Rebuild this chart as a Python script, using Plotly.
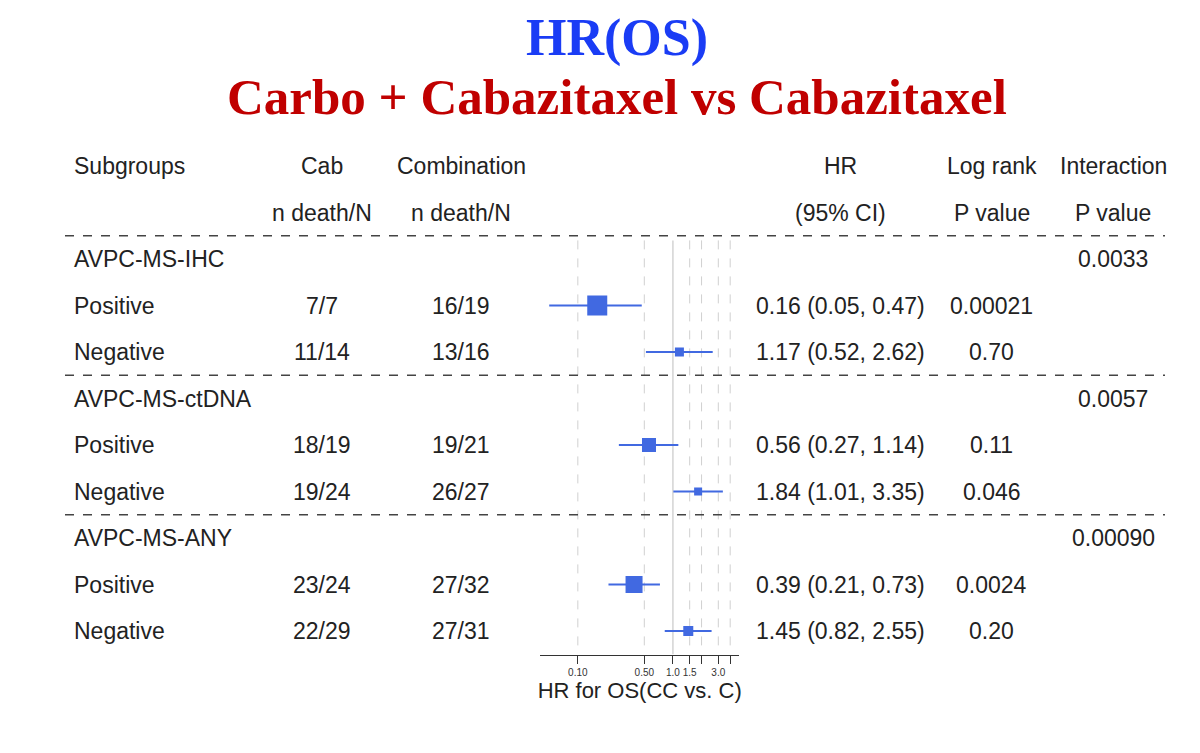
import plotly.graph_objects as go
import numpy as np

# data ---------------------------------------------------------------
groups = ['AVPC-MS-IHC', 'AVPC-MS-ctDNA', 'AVPC-MS-ANY']
interaction_p = ['0.0033', '0.0057', '0.00090']
levels = ['Positive', 'Negative']
cab_n = ['7/7', '11/14', '18/19', '19/24', '23/24', '22/29']
combo_n = ['16/19', '13/16', '19/21', '26/27', '27/32', '27/31']
hr = [0.16, 1.17, 0.56, 1.84, 0.39, 1.45]
ci_low = [0.05, 0.52, 0.27, 1.01, 0.21, 0.82]
ci_high = [0.47, 2.62, 1.14, 3.35, 0.73, 2.55]
logrank_p = ['0.00021', '0.70', '0.11', '0.046', '0.0024', '0.20']
box_size = [20, 9, 14, 8, 17, 10]
tick_vals = [0.1, 0.5, 1.0, 1.5, 2.0, 3.0, 4.0]
tick_text = ['0.10', '0.50', '1.0', '1.5', '', '3.0', '']

BLUE = '#4169e1'
FONT = 'Liberation Sans, Arial, sans-serif'
OFF = 8  # page body margin
W, H = 1200, 753

# row positions: header rows 0,1 then group + 2 level rows each
group_rows = [2 + 3 * i for i in range(len(groups))]
item_rows = [g + k + 1 for g in group_rows for k in range(2)]

fig = go.Figure()

# CI whiskers
for y, lo, hi in zip(item_rows, ci_low, ci_high):
    fig.add_trace(go.Scatter(x=[lo, hi], y=[y, y], mode='lines',
                             line=dict(color=BLUE, width=2), showlegend=False, hoverinfo='skip'))
fig.add_trace(go.Scatter(x=hr, y=item_rows, mode='markers',
                         marker=dict(symbol='square', size=box_size, color=BLUE, opacity=1,
                                     line=dict(width=0)),
                         showlegend=False))

# vertical reference lines
for t in tick_vals:
    if t == 1.0:
        fig.add_shape(type='line', x0=t, x1=t, y0=1.6, y1=10.5, xref='x', yref='y', layer='below',
                      line=dict(color='#c8c8c8', width=1.2))
    else:
        fig.add_shape(type='line', x0=t, x1=t, y0=1.6, y1=10.5, xref='x', yref='y', layer='below',
                      line=dict(color='#d0d0d0', width=1, dash='dash'))

# separators
for r in [1.5] + [g + 2.5 for g in group_rows[:-1]]:
    fig.add_shape(type='line', x0=(65 - OFF) / W, x1=(1165 - OFF) / W, y0=r, y1=r,
                  xref='paper', yref='y', line=dict(color='#444', width=1.5, dash='dash'))

def txt(x, y, s, anchor='center'):
    fig.add_annotation(x=(x - OFF) / W, y=y, xref='paper', yref='y', text=s, showarrow=False,
                       xanchor=anchor, font=dict(family=FONT, size=23, color='#222'))

# headers
txt(72, 0, 'Subgroups', 'left')
txt(322, 0, 'Cab'); txt(322, 1, 'n death/N')
txt(461, 0, 'Combination'); txt(461, 1, 'n death/N')
txt(840, 0, 'HR'); txt(840, 1, '(95% CI)')
txt(992, 0, 'Log rank'); txt(992, 1, 'P value')
txt(1113, 0, 'Interaction'); txt(1113, 1, 'P value')

for g, name, p in zip(group_rows, groups, interaction_p):
    txt(72, g, name, 'left')
    txt(1113, g, p)

for i, y in enumerate(item_rows):
    txt(72, y, levels[i % 2], 'left')
    txt(322, y, cab_n[i])
    txt(461, y, combo_n[i])
    txt(840, y, f'{hr[i]:.2f} ({ci_low[i]:.2f}, {ci_high[i]:.2f})')
    txt(992, y, logrank_p[i])

# map row index to pixel rows: pixel = 166 + 46.5*row (reference pixels)
ROW_H = 46.5

def row_of(px):
    return (px - 166) / ROW_H

# titles
SERIF = 'Liberation Serif, Times New Roman, serif'
fig.add_annotation(x=(617 - OFF) / W, y=row_of(38), xref='paper', yref='y', text='<b>HR(OS)</b>',
                   showarrow=False, font=dict(family=SERIF, size=52, color='#1a3cf5'))
fig.add_annotation(x=(617 - OFF) / W, y=row_of(97), xref='paper', yref='y',
                   text='<b>Carbo + Cabazitaxel vs Cabazitaxel</b>',
                   showarrow=False, font=dict(family=SERIF, size=51, color='#c00000'))

bottom_px = 655
fig.update_yaxes(range=[row_of(bottom_px), row_of(OFF)],
                 domain=[(H - (bottom_px - OFF)) / H, 1], visible=False)

fig.update_xaxes(type='log', range=[np.log10(0.04), np.log10(5)],
                 domain=[(540 - OFF) / W, (739.4 - OFF) / W],
                 tickvals=tick_vals, ticktext=tick_text, ticks='outside', ticklen=8,
                 showline=True, linecolor='#333', tickcolor='#333', showgrid=False, zeroline=False,
                 tickfont=dict(family=FONT, size=10, color='#333'),
                 title=dict(text='HR for OS(CC vs. C)', standoff=4,
                            font=dict(family=FONT, size=22, color='#222')))

fig.update_layout(width=W, height=H, margin=dict(l=0, r=0, t=0, b=0),
                  plot_bgcolor='white', paper_bgcolor='white', showlegend=False)

fig.write_html('out.html')
